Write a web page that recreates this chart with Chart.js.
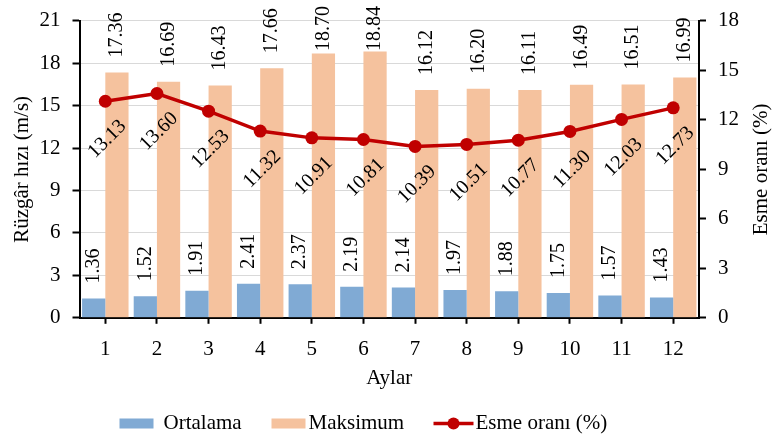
<!DOCTYPE html>
<html>
<head>
<meta charset="utf-8">
<script src="https://cdn.jsdelivr.net/npm/chart.js@4/dist/chart.umd.min.js"></script>
<style>
  html, body { margin: 0; padding: 0; background: #fff; }
  #wrap { width: 772px; height: 438px; position: relative; }
</style>
</head>
<body>
<div id="wrap"><canvas id="chart"></canvas></div>
<script>
// Monthly wind data
const months = ['1', '2', '3', '4', '5', '6', '7', '8', '9', '10', '11', '12'];
const ortalama = [1.36, 1.52, 1.91, 2.41, 2.37, 2.19, 2.14, 1.97, 1.88, 1.75, 1.57, 1.43];
const maksimum = [17.36, 16.69, 16.43, 17.66, 18.70, 18.84, 16.12, 16.20, 16.11, 16.49, 16.51, 16.99];
const esmeOrani = [13.13, 13.60, 12.53, 11.32, 10.91, 10.81, 10.39, 10.51, 10.77, 11.30, 12.03, 12.73];
const speedTicks = [0, 3, 6, 9, 12, 15, 18, 21];
const rateTicks = [0, 3, 6, 9, 12, 15, 18];

const FONT = '"Liberation Serif", "Times New Roman", serif';
const BLUE = '#80AAD4';
const PEACH = '#F5C29E';
const RED = '#C00000';

Chart.defaults.font.family = FONT;
Chart.defaults.color = '#000';

// value labels: vertical above bars, diagonal below line points
const valueLabels = {
  id: 'valueLabels',
  afterDatasetsDraw(chart) {
    const ctx = chart.ctx;
    ctx.save();
    ctx.fillStyle = '#000';
    ctx.font = '20px ' + FONT;
    [0, 1].forEach(di => {
      const meta = chart.getDatasetMeta(di);
      const values = chart.data.datasets[di].data;
      meta.data.forEach((el, i) => {
        const txt = values[i].toFixed(2);
        const w = ctx.measureText(txt).width;
        let start = el.y - 15;
        if (start - w < 6) start = 6 + w;
        ctx.save();
        ctx.translate(el.x, start);
        ctx.rotate(-Math.PI / 2);
        ctx.textAlign = 'left';
        ctx.textBaseline = 'middle';
        ctx.fillText(txt, 0, 0);
        ctx.restore();
      });
    });
    const lmeta = chart.getDatasetMeta(2);
    lmeta.data.forEach((el, i) => {
      const txt = esmeOrani[i].toFixed(2);
      ctx.save();
      ctx.translate(el.x + 2, el.y + 38);
      ctx.rotate(-Math.PI / 4);
      ctx.textAlign = 'center';
      ctx.textBaseline = 'middle';
      ctx.fillText(txt, 0, 0);
      ctx.restore();
    });
    ctx.restore();
  }
};

// right axis title reading bottom-to-top, and the legend entries
const extras = {
  id: 'extras',
  afterDraw(chart) {
    const ctx = chart.ctx;
    const s = chart.scales.y1;
    ctx.save();
    ctx.fillStyle = '#000';
    ctx.font = '21px ' + FONT;
    ctx.translate(s.right - 10.5, (s.top + s.bottom) / 2);
    ctx.rotate(-Math.PI / 2);
    ctx.textAlign = 'center';
    ctx.textBaseline = 'middle';
    ctx.fillText('Esme oranı (%)', 0, 0);
    ctx.restore();

    const hb = chart.legend.legendHitBoxes[0];
    const cy = hb.top + hb.height / 2;
    const x0 = chart.chartArea.left + 40;
    const sets = chart.data.datasets;
    ctx.save();
    ctx.font = '21px ' + FONT;
    ctx.textBaseline = 'middle';
    ctx.textAlign = 'left';
    // bar entries
    ctx.fillStyle = sets[0].backgroundColor;
    ctx.fillRect(x0, cy - 5, 34, 10);
    ctx.fillStyle = '#000';
    ctx.fillText(sets[0].label, x0 + 44, cy);
    ctx.fillStyle = sets[1].backgroundColor;
    ctx.fillRect(x0 + 152, cy - 5, 34, 10);
    ctx.fillStyle = '#000';
    ctx.fillText(sets[1].label, x0 + 189, cy);
    // line entry
    ctx.strokeStyle = RED; ctx.lineWidth = 3.5;
    ctx.beginPath(); ctx.moveTo(x0 + 314, cy); ctx.lineTo(x0 + 354, cy); ctx.stroke();
    ctx.fillStyle = RED;
    ctx.beginPath(); ctx.arc(x0 + 334, cy, 6, 0, Math.PI * 2); ctx.fill();
    ctx.fillStyle = '#000';
    ctx.fillText(sets[2].label, x0 + 356, cy);
    ctx.restore();
  }
};

const chart = new Chart(document.getElementById('chart'), {
  data: {
    labels: months,
    datasets: [
      {
        type: 'bar', label: 'Ortalama', data: ortalama, yAxisID: 'y',
        backgroundColor: BLUE, borderWidth: 0,
        categoryPercentage: 0.9, barPercentage: 1.0, order: 1
      },
      {
        type: 'bar', label: 'Maksimum', data: maksimum, yAxisID: 'y',
        backgroundColor: PEACH, borderWidth: 0,
        categoryPercentage: 0.9, barPercentage: 1.0, order: 1
      },
      {
        type: 'line', label: 'Esme oranı (%)', data: esmeOrani, yAxisID: 'y1',
        borderColor: RED, backgroundColor: RED, borderWidth: 3.5,
        pointRadius: 6.5, pointHoverRadius: 6.5, pointBackgroundColor: RED,
        pointBorderWidth: 0, tension: 0, order: 0
      }
    ]
  },
  options: {
    responsive: true,
    maintainAspectRatio: false,
    animation: false,
    layout: { padding: { top: 16, left: 0, right: 0, bottom: -6 } },
    plugins: {
      tooltip: { enabled: false },
      legend: {
        position: 'bottom',
        labels: {
          font: { size: 21, family: FONT },
          usePointStyle: true,
          pointStyleWidth: 34,
          boxHeight: 10,
          padding: 28,
          // the entries are painted by the extras plugin; this only reserves the space
          generateLabels(chart) {
            return chart.data.datasets.map((ds, i) => ({
              text: ds.label,
              fillStyle: 'rgba(0,0,0,0)',
              strokeStyle: 'rgba(0,0,0,0)',
              fontColor: 'rgba(0,0,0,0)',
              lineWidth: 0,
              pointStyle: 'rect',
              hidden: false,
              datasetIndex: i
            }));
          }
        }
      }
    },
    scales: {
      x: {
        grid: { display: true, drawOnChartArea: false, offset: false, tickLength: 6, tickColor: '#000', tickWidth: 2 },
        border: { color: '#000', width: 2 },
        ticks: { font: { size: 21, family: FONT }, padding: 13 },
        title: { display: true, text: 'Aylar', font: { size: 21, family: FONT, lineHeight: 1 }, padding: { top: -7, bottom: -4 } }
      },
      y: {
        position: 'left',
        min: 0, max: 21,
        afterBuildTicks(scale) { scale.ticks = speedTicks.map(v => ({ value: v })); },
        grid: { color: '#D9D9D9', lineWidth: 1, tickLength: 7, tickColor: '#000', tickWidth: 2 },
        border: { color: '#000', width: 2 },
        ticks: { font: { size: 21, family: FONT, lineHeight: 0.85 }, padding: 12 },
        title: { display: true, text: 'Rüzgâr hızı (m/s)', font: { size: 21, family: FONT, lineHeight: 1 }, padding: { top: 11.5, bottom: -5 } }
      },
      y1: {
        position: 'right',
        min: 0, max: 18,
        afterBuildTicks(scale) { scale.ticks = rateTicks.map(v => ({ value: v })); },
        grid: { drawOnChartArea: false, tickLength: 7, tickColor: '#000', tickWidth: 2 },
        border: { color: '#000', width: 2 },
        ticks: { font: { size: 21, family: FONT, lineHeight: 0.85 }, padding: 12 },
        title: { display: true, text: 'Esme oranı (%)', color: 'rgba(0,0,0,0)', font: { size: 21, family: FONT, lineHeight: 1 }, padding: { top: 0, bottom: 0 } }
      }
    }
  },
  plugins: [valueLabels, extras]
});
</script>
</body>
</html>
